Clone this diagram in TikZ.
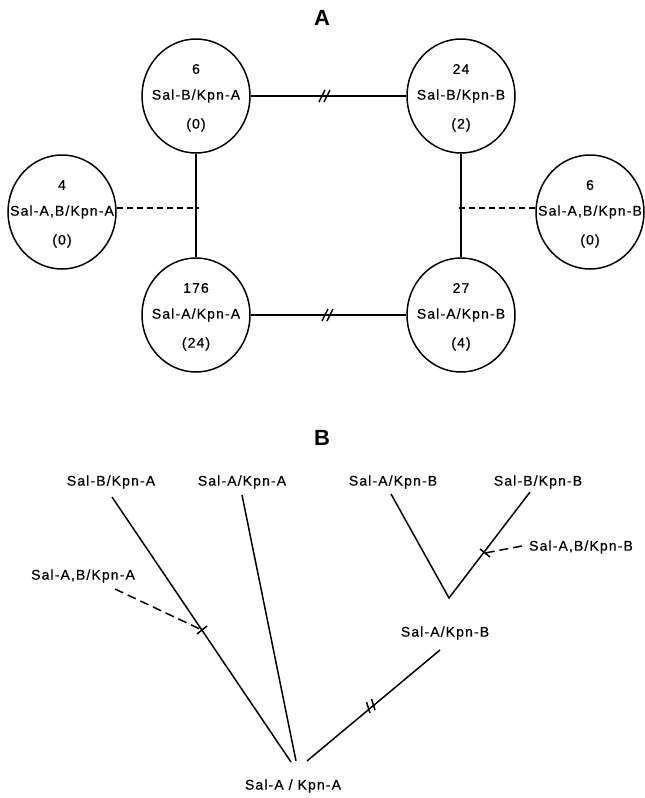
\documentclass[tikz,border=0pt]{standalone}
\usepackage{fontspec}
\setmainfont{Liberation Sans}
\newfontfamily\lblfont[LetterSpace=8,FakeBold=0.6]{Liberation Sans}
\usetikzlibrary{shapes.geometric,calc}
\newcommand\circtext[4]{%
  \node[txt] (#1num) at ($(#1)+(0,-27)$) {#2};
  \node[txt] (#1lab) at (#1) {#3};
  \node[txt] (#1par) at ($(#1)+(0,29)$) {#4};
}
\begin{document}
\begin{tikzpicture}[x=1pt,y=-1pt,
  bub/.style={draw,ellipse,line width=1.5pt,minimum width=108pt,minimum height=114pt,inner sep=0pt},
  txt/.style={font=\lblfont\fontsize{14}{16}\selectfont,inner sep=0pt},
  ttl/.style={font=\bfseries\fontsize{22}{24}\selectfont,inner sep=0pt},
  edge/.style={line width=1.5pt},
  dsha/.style={line width=1.5pt,dash pattern=on 6pt off 4pt},
  dshb/.style={line width=1.5pt,dash pattern=on 9pt off 5pt}
]
\useasboundingbox (0,0) rectangle (645,798);
% ---------- Part A ----------
\node[ttl] (tA) at (322,18) {A};
\node[bub] (TL) at (196,96) {};
\node[bub] (TR) at (461,96) {};
\node[bub] (L)  at (62,212) {};
\node[bub] (R)  at (590,212) {};
\node[bub] (BL) at (196,315) {};
\node[bub] (BR) at (461,315) {};
\circtext{TL}{6}{Sal-B/Kpn-A}{(0)}
\circtext{TR}{24}{Sal-B/Kpn-B}{(2)}
\circtext{L}{4}{Sal-A,B/Kpn-A}{(0)}
\circtext{R}{6}{Sal-A,B/Kpn-B}{(0)}
\circtext{BL}{176}{Sal-A/Kpn-A}{(24)}
\circtext{BR}{27}{Sal-A/Kpn-B}{(4)}
\draw[edge] (TL) -- (TR);
\draw[edge] (BL) -- (BR);
\draw[edge] (TL) -- (BL);
\draw[edge] (TR) -- (BR);
\coordinate (jL) at ($(TL |- L)+(3,-4)$);
\coordinate (jR) at ($(TR |- R)+(-3,-4)$);
\coordinate (oL) at ($(L)+(0,-4)$);
\coordinate (oR) at ($(R)+(0,-4)$);
\draw[dsha] (L.east |- oL) -- (jL);
\draw[dsha] (R.west |- oR) -- (jR);
% break marks
\coordinate (m1) at (325,96);
\coordinate (m2) at (328,315);
\foreach \m in {m1,m2}{
  \draw[edge] ($(\m)+(-6,6)$) -- ($(\m)+(0,-6)$);
  \draw[edge] ($(\m)+(-1,6)$) -- ($(\m)+(5,-6)$);
}
% ---------- Part B ----------
\node[ttl] (tB) at (322,438) {B};
\node[txt] (bSBKA) at (111,482) {Sal-B/Kpn-A};
\node[txt] (bSAKA) at (242,482) {Sal-A/Kpn-A};
\node[txt] (bSABKA) at (83,576) {Sal-A,B/Kpn-A};
\node[txt] (bSAKB) at (393,482) {Sal-A/Kpn-B};
\node[txt] (bSBKB) at (538,482) {Sal-B/Kpn-B};
\node[txt] (bSABKB) at (581,547) {Sal-A,B/Kpn-B};
\node[txt] (bSAKB2) at (445,633) {Sal-A/Kpn-B};
\node[txt] (bRoot) at (293,786) {Sal-A / Kpn-A};
\coordinate (s1) at (112,497);
\coordinate (e1) at (291,762);
\coordinate (s2) at (242,495);
\coordinate (e2) at (296,761);
\coordinate (s3) at (440,650);
\coordinate (e3) at (307,761);
\coordinate (v1) at (391,494);
\coordinate (v0) at (449,598);
\coordinate (v2) at (530,492);
\coordinate (tk1) at (202,630);
\coordinate (d1) at (115,589);
\coordinate (tk2) at (485,553);
\coordinate (d2) at (522,546);
\draw[edge] (s1) -- (e1);
\draw[edge] (s2) -- (e2);
\draw[edge] (s3) -- (e3);
\draw[edge] (v1) -- (v0) -- (v2);
\draw[dshb] (d1) -- (tk1);
\draw[dshb] (d2) -- (tk2);
\draw[edge] ($(tk1)+(-5,4)$) -- ($(tk1)+(5,-4)$);
\draw[edge] ($(tk2)+(-5,-4)$) -- ($(tk2)+(5,4)$);
\coordinate (m3) at (372,707);
\draw[edge] ($(m3)+(-5.5,-5)$) -- ($(m3)+(-2,6)$);
\draw[edge] ($(m3)+(-0.5,-8)$) -- ($(m3)+(3,3)$);
\end{tikzpicture}
\end{document}
